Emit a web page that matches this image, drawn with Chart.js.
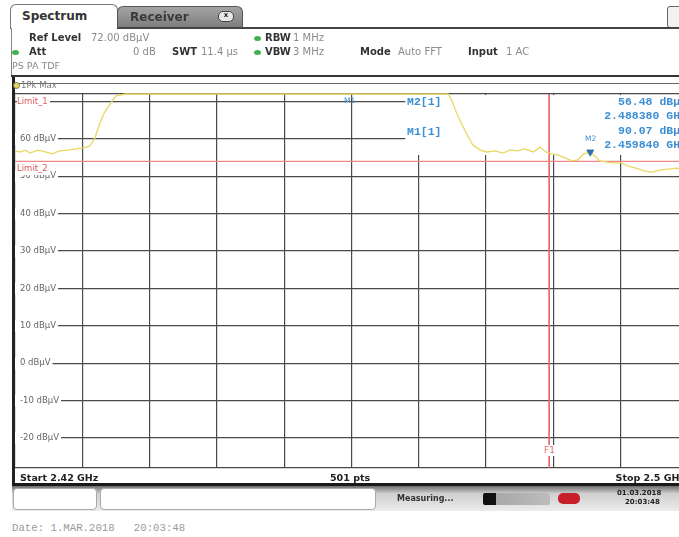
<!DOCTYPE html>
<html>
<head>
<meta charset="utf-8">
<script src="https://cdn.jsdelivr.net/npm/chart.js@4.4.1/dist/chart.umd.min.js"></script>
<style>
    html, body { margin: 0; padding: 0; }
    body { width: 679px; height: 537px; overflow: hidden; position: relative; background: #fff; font-family: "DejaVu Sans", sans-serif; }
    .t { position: absolute; white-space: pre; line-height: 1; z-index: 5; }
    .b { font-weight: bold; color: #333; font-size: 10px; }
    .v { color: #8a8a8a; font-size: 10px; }
    .box { position: absolute; z-index: 4; }
    .dot { position: absolute; width: 7px; height: 5px; border-radius: 50%; background: #3fb14e; z-index: 5; }
    .mk { font-family: "Liberation Mono", monospace; font-weight: bold; font-size: 11.5px; color: #3d8fd4; }
    #spec { position: absolute; left: 0; top: 80px; z-index: 2; }
</style>
</head>
<body>

<!-- tabs -->
<div class="box" style="left:10px;top:4px;width:106px;height:24px;border:1px solid #777;border-bottom:none;border-radius:6px 6px 0 0;background:#fff;"></div>
<div class="t" style="left:22px;top:10px;font-size:12px;font-weight:bold;color:#333;">Spectrum</div>
<div class="box" style="left:117px;top:6px;width:124px;height:21px;border:1px solid #555;border-bottom:none;border-radius:6px 6px 0 0;background:linear-gradient(#a4a4a4,#7c7c7c);"></div>
<div class="t" style="left:130px;top:11px;font-size:12px;font-weight:bold;color:#3a3a3a;">Receiver</div>
<div class="t" style="left:218px;top:11px;width:14px;height:9px;border-radius:5px;background:#e6e6e6;border:1px solid #444;font-size:7px;font-weight:bold;text-align:center;color:#222;">x</div>
<div class="box" style="left:667px;top:6px;width:14px;height:20px;border:1px solid #666;border-radius:3px;background:#f2f2f2;"></div>
<div class="box" style="left:117px;top:27px;width:570px;height:2px;background:#444;"></div>

<!-- header panel -->
<div class="box" style="left:11px;top:28px;width:1px;height:48px;background:#888;"></div>
<div class="t b" style="left:29px;top:33px;">Ref Level</div>
<div class="t v" style="left:91px;top:33px;">72.00 dBµV</div>
<div class="dot" style="left:254px;top:36px;"></div>
<div class="t b" style="left:265px;top:33px;">RBW</div>
<div class="t v" style="left:293px;top:33px;">1 MHz</div>
<div class="dot" style="left:12px;top:50px;"></div>
<div class="t b" style="left:29px;top:47px;">Att</div>
<div class="t v" style="left:133px;top:47px;">0 dB</div>
<div class="t b" style="left:172px;top:47px;">SWT</div>
<div class="t v" style="left:201px;top:47px;">11.4 µs</div>
<div class="dot" style="left:254px;top:50px;"></div>
<div class="t b" style="left:265px;top:47px;">VBW</div>
<div class="t v" style="left:293px;top:47px;">3 MHz</div>
<div class="t b" style="left:360px;top:47px;">Mode</div>
<div class="t v" style="left:398px;top:47px;">Auto FFT</div>
<div class="t b" style="left:468px;top:47px;">Input</div>
<div class="t v" style="left:506px;top:47px;">1 AC</div>
<div class="t v" style="left:12px;top:61px;font-size:9.5px;">PS PA TDF</div>
<div class="box" style="left:11px;top:75px;width:680px;height:2px;background:#333;"></div>

<!-- plot panel frame -->
<div class="box" style="left:15px;top:83px;width:680px;height:1px;background:#666;"></div>
<div class="box" style="left:12px;top:77px;width:3px;height:409px;background:#222;"></div>
<div class="t" style="left:13px;top:82px;width:5px;height:5px;border-radius:50%;background:#e8d84a;border:1px solid #777;"></div>
<div class="t" style="left:21px;top:81px;font-size:8.5px;color:#777;">1Pk Max</div>

<canvas id="spec" width="700" height="400"></canvas>

<!-- plot annotations -->
<div class="t" style="left:17px;top:96px;font-size:8.5px;color:#e05a5a;background:#fff;padding:1px 2px 1px 0;">Limit_1</div>
<div class="t" style="left:17px;top:163px;font-size:8.5px;color:#e05a5a;background:#fff;padding:1px 2px 2px 0;">Limit_2</div>
<div class="t" style="left:344px;top:97px;font-size:7.5px;color:#3d8fd4;">M1</div>
<div class="t" style="left:585px;top:135px;font-size:7.5px;color:#3d8fd4;">M2</div>
<div class="t mk" style="left:407px;top:96px;">M2[1]</div>
<div class="t mk" style="left:407px;top:126px;">M1[1]</div>
<div class="t mk" style="right:-8px;top:96px;text-align:right;">56.48 dBµV</div>
<div class="t mk" style="right:-8px;top:110px;text-align:right;">2.488380 GHz</div>
<div class="t mk" style="right:-8px;top:125px;text-align:right;">90.07 dBµV</div>
<div class="t mk" style="right:-8px;top:139px;text-align:right;">2.459840 GHz</div>
<div class="t" style="left:543px;top:445px;font-size:9px;color:#e07070;background:#fff;padding:1px 1px;">F1</div>

<!-- bottom axis row -->
<div class="t" style="left:20px;top:473px;font-size:9.5px;font-weight:bold;color:#222;">Start 2.42 GHz</div>
<div class="t" style="left:330px;top:473px;font-size:9.5px;font-weight:bold;color:#222;">501 pts</div>
<div class="t" style="right:-6px;top:473px;font-size:9.5px;font-weight:bold;color:#222;">Stop 2.5 GHz</div>
<div class="box" style="left:12px;top:483px;width:680px;height:3px;background:#1a1a1a;"></div>

<!-- status bar -->
<div class="box" style="left:12px;top:486px;width:680px;height:25px;background:linear-gradient(#6e6e6e 0%,#cfcfcf 30%,#ececec 100%);"></div>
<div class="box" style="left:13px;top:488px;width:82px;height:20px;background:#fff;border:1px solid #aaa;border-radius:4px;z-index:5;"></div>
<div class="box" style="left:100px;top:488px;width:274px;height:20px;background:#fff;border:1px solid #aaa;border-radius:4px;z-index:5;"></div>
<div class="t" style="left:397px;top:495px;font-size:8px;font-weight:bold;color:#333;">Measuring...</div>
<div class="t" style="left:483px;top:493px;width:67px;height:12px;background:linear-gradient(90deg,#111 0,#111 20%,#a8a8a8 20%,#bdbdbd 100%);border-radius:2px;"></div>
<div class="t" style="left:558px;top:493px;width:22px;height:11px;background:#c8202a;border-radius:5px;"></div>
<div class="t" style="left:617px;top:490px;font-size:7px;font-weight:bold;color:#222;">01.03.2018</div>
<div class="t" style="left:625px;top:499px;font-size:7px;font-weight:bold;color:#222;">20:03:48</div>

<div class="t" style="left:12px;top:523px;font-family:'Liberation Mono',monospace;font-size:10.7px;color:#9a9a9a;">Date: 1.MAR.2018   20:03:48</div>

<script>
// trace (1Pk Max), frequency in GHz and level in dBuV
const freqGHz = [2.4200, 2.4206, 2.4212, 2.4218, 2.4227, 2.4236, 2.4244, 2.4253, 2.4263, 2.4273,
    2.4282, 2.4289, 2.4295, 2.4300, 2.4306, 2.4313, 2.4320, 2.4331, 2.4349, 2.4420,
    2.4539, 2.45984, 2.4658, 2.4705, 2.4715, 2.4719, 2.4725, 2.4731, 2.4737, 2.4744,
    2.4753, 2.4761, 2.4771, 2.4780, 2.4788, 2.4798, 2.4806, 2.4816, 2.4824, 2.4831,
    2.4838, 2.4845, 2.4854, 2.4862, 2.4869, 2.4876, 2.48838, 2.4889, 2.4895, 2.4904,
    2.4912, 2.4920, 2.4929, 2.4938, 2.4949, 2.4957, 2.4967, 2.4976, 2.4986, 2.5000];
const levelDbuv = [56.8, 56.5, 57.0, 56.2, 57.0, 56.5, 56.0, 56.8, 57.0, 57.3,
    57.6, 58.1, 60.2, 63.7, 66.9, 69.3, 71.5, 78, 85, 88,
    89, 90.07, 88, 80, 73, 70.4, 66.9, 64.0, 61.3, 58.4,
    57.0, 56.5, 56.8, 56.2, 57.0, 56.8, 57.3, 56.5, 57.8, 56.5,
    56.0, 55.7, 54.9, 54.1, 54.4, 56.0, 56.48, 55.4, 54.1, 53.8,
    53.6, 53.6, 52.7, 52.2, 51.4, 51.1, 51.7, 51.9, 52.2, 51.7];

const startGHz = 2.42, stopGHz = 2.5;
const refLevel = 72, bottomLevel = -28;
const yTicks = [-20, -10, 0, 10, 20, 30, 40, 50, 60, 70];
const yLabelled = [-20, -10, 0, 10, 20, 30, 40, 50, 60];
const xTicks = [2.42, 2.428, 2.436, 2.444, 2.452, 2.46, 2.468, 2.476, 2.484, 2.492, 2.5];

const limit2Level = 54;
const f1GHz = 2.4835;
const m2Freq = 2.48838, m2Level = 56.48;

// marker table area (covers grid top right)
const tableFromGHz = 2.4664, tableDownToDb = 55.7;

const tableCover = {
    id: 'tableCover',
    beforeDatasetsDraw(chart) {
        const { ctx, chartArea, scales: { x, y } } = chart;
        const left = x.getPixelForValue(tableFromGHz);
        const bottom = y.getPixelForValue(tableDownToDb);
        ctx.save();
        ctx.fillStyle = '#fff';
        ctx.fillRect(left, chartArea.top + 1, chartArea.right - left - 1, bottom - chartArea.top - 1);
        ctx.restore();
    }
};

const ctx = document.getElementById('spec').getContext('2d');
new Chart(ctx, {
    type: 'line',
    data: {
        datasets: [
            {
                label: 'M2',
                data: [{ x: m2Freq, y: m2Level }],
                showLine: false,
                pointStyle: 'triangle', rotation: 180, pointRadius: 4,
                backgroundColor: '#2f6fa8', borderColor: '#2f6fa8'
            },
            {
                label: '1Pk Max',
                // analyzer clamps the trace at the reference level
                data: freqGHz.map((f, i) => ({ x: f, y: Math.min(levelDbuv[i], refLevel) })),
                borderColor: '#e8d862', borderWidth: 1.3, pointRadius: 0, tension: 0, clip: 2
            },
            {
                label: 'Limit_2',
                data: [{ x: startGHz, y: limit2Level }, { x: stopGHz, y: limit2Level }],
                borderColor: '#f08888', borderWidth: 1.2, pointRadius: 0
            },
            {
                label: 'F1',
                data: [{ x: f1GHz, y: refLevel }, { x: f1GHz, y: bottomLevel }],
                borderColor: '#e26868', borderWidth: 1, pointRadius: 0
            }
        ]
    },
    options: {
        responsive: false,
        devicePixelRatio: 1,
        animation: false,
        layout: { padding: { left: 15, right: 12, top: 14, bottom: 12 } },
        plugins: { legend: { display: false }, tooltip: { enabled: false } },
        scales: {
            x: {
                type: 'linear', min: startGHz, max: stopGHz,
                afterBuildTicks: s => { s.ticks = xTicks.map(v => ({ value: v })); },
                afterFit: s => { s.height = 0; },
                ticks: { display: false },
                grid: { color: '#4a4a4a', lineWidth: 1.2, drawTicks: false },
                border: { display: false }
            },
            y: {
                type: 'linear', min: bottomLevel, max: refLevel,
                afterBuildTicks: s => { s.ticks = [bottomLevel, ...yTicks, refLevel].map(v => ({ value: v })); },
                afterFit: s => { s.width = 0; },
                ticks: {
                    mirror: true, padding: 5,
                    color: '#666',
                    font: { family: 'DejaVu Sans', size: 8.5 },
                    showLabelBackdrop: c => yLabelled.includes(c.tick.value),
                    backdropColor: '#fff',
                    backdropPadding: { top: 1, bottom: 1, left: 6, right: 2 },
                    callback: v => yLabelled.includes(v) ? v + ' dBµV' : ''
                },
                grid: { color: '#4a4a4a', lineWidth: 1.2, drawTicks: false },
                border: { display: false }
            }
        }
    },
    plugins: [tableCover]
});
</script>
</body>
</html>
